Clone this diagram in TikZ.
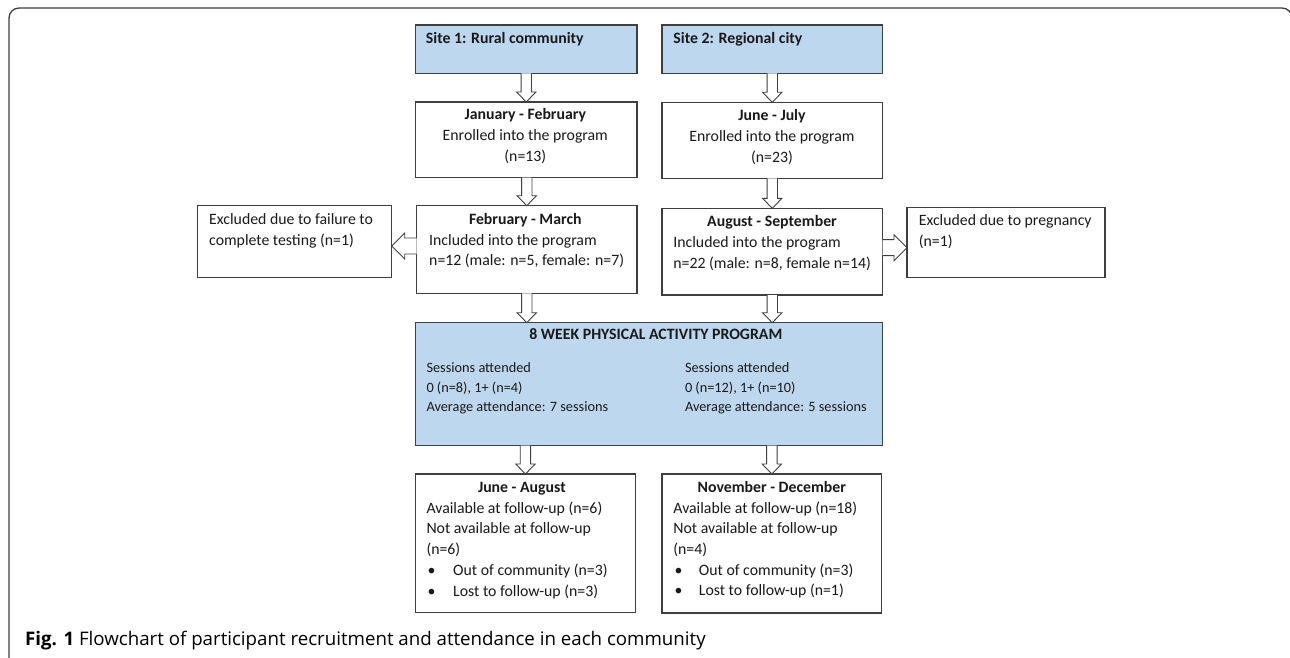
\documentclass[tikz,border=0pt]{standalone}
\usepackage{fontspec}
\setmainfont{Carlito}
\newfontfamily\capfont{Open Sans}
\usetikzlibrary{calc}
\definecolor{boxblue}{HTML}{BDD7EE}
\definecolor{boxline}{HTML}{3F3F3F}
\definecolor{txt}{HTML}{1A1A1A}
\newcommand{\vblk}[3]{%
  \draw[blk] let \p1=(#1), \p2=(#2), \p3=(#3) in
    (\x1-5.2pt,\y2) -- (\x1-5.2pt,\y3+10pt) -- (\x1-9.7pt,\y3+10pt) -- (\x1,\y3)
    -- (\x1+9.7pt,\y3+10pt) -- (\x1+5.2pt,\y3+10pt) -- (\x1+5.2pt,\y2);}
\newcommand{\hblkL}[3]{%
  \draw[blk] let \p1=(#1), \p2=(#2), \p3=(#3) in
    (\x2,\y1+8pt) -- (\x3+13pt,\y1+8pt) -- (\x3+13pt,\y1+13pt) -- (\x3,\y1)
    -- (\x3+13pt,\y1-13pt) -- (\x3+13pt,\y1-8pt) -- (\x2,\y1-8pt);}
\newcommand{\hblkR}[3]{%
  \draw[blk] let \p1=(#1), \p2=(#2), \p3=(#3) in
    (\x2,\y1+8pt) -- (\x3-13pt,\y1+8pt) -- (\x3-13pt,\y1+13pt) -- (\x3,\y1)
    -- (\x3-13pt,\y1-13pt) -- (\x3-13pt,\y1-8pt) -- (\x2,\y1-8pt);}
\tikzset{
  box/.style={draw=boxline, line width=1.1pt, fill=white, anchor=north west,
    inner sep=0pt, outer sep=0pt},
  bluebox/.style={box, fill=boxblue},
  blk/.style={draw=boxline, line width=0.9pt, fill=white, line join=miter},
  tc/.style={anchor=mid, text=txt, inner sep=0pt, font=\fontsize{15.8}{19}\selectfont\bfseries},
  tl/.style={anchor=mid west, text=txt, inner sep=0pt, font=\fontsize{15.8}{19}\selectfont},
  tm/.style={anchor=mid, text=txt, inner sep=0pt, font=\fontsize{15.8}{19}\selectfont},
  ts/.style={anchor=mid west, text=txt, inner sep=0pt, font=\fontsize{14.3}{17}\selectfont},
}
\begin{document}
\begin{tikzpicture}[x=1pt,y=-1pt]
\useasboundingbox (0,0) rectangle (1290,658);
% outer frame
\draw[boxline, line width=1.3pt, rounded corners=10pt] (9,663) -- (9,8) -- (1292,8) -- (1292,663);
% boxes
\node[bluebox, minimum width=221.5pt, minimum height=48.3pt] (site1) at (415.5,25) {};
\node[box, minimum width=221.5pt, minimum height=75.5pt] (jan) at (415.5,102) {};
\node[box, minimum width=220.5pt, minimum height=87.6pt] (febmar) at (416.5,205.7) {};
\node[box, minimum width=194pt, minimum height=71.6pt] (exclL) at (197.7,205.7) {};
\node[bluebox, minimum width=220.5pt, minimum height=48.3pt] (site2) at (662,25) {};
\node[box, minimum width=220.5pt, minimum height=76pt] (june) at (662,102.3) {};
\node[box, minimum width=220.5pt, minimum height=86.7pt] (aug) at (662,208.3) {};
\node[box, minimum width=198pt, minimum height=70pt] (exclR) at (907,207.3) {};
\node[bluebox, minimum width=466.5pt, minimum height=123pt] (week) at (415.6,322.7) {};
\node[box, minimum width=219.7pt, minimum height=138.7pt] (junaug) at (415.6,474) {};
\node[box, minimum width=219.7pt, minimum height=139pt] (novdec) at (662,474) {};
% texts
\node[tl, font=\fontsize{15.8}{19}\selectfont\bfseries] (t1) at (425.7,40.7) {Site 1: Rural community};
\node[tc] (t2) at (525.3,117) {January - February};
\node[tm] (t3) at (525.3,138.3) {Enrolled into the program};
\node[tm] (t4) at (525.3,159.3) {(n=13)};
\node[tc] (t5) at (525.3,221.7) {February - March};
\node[tl] (t6) at (429,242.7) {Included into the program};
\node[tl] (t7) at (429,263.3) {n=12 (male: n=5, female: n=7)};
\node[tl] (t8) at (209,221.7) {Excluded due to failure to};
\node[tl] (t9) at (209,242.7) {complete testing (n=1)};
\node[tl, font=\fontsize{15.8}{19}\selectfont\bfseries] (t10) at (673.2,40.7) {Site 2: Regional city};
\node[tc] (t11) at (772,118.3) {June - July};
\node[tm] (t12) at (772,139.3) {Enrolled into the program};
\node[tm] (t13) at (772,160) {(n=23)};
\node[tc] (t14) at (772,224) {August - September};
\node[tl] (t15) at (673.2,245) {Included into the program};
\node[tl] (t16) at (673.2,265.7) {n=22 (male: n=8, female n=14)};
\node[tl] (t17) at (918.6,222.7) {Excluded due to pregnancy};
\node[tl] (t18) at (918.6,244.3) {(n=1)};
\node[tc] (t19) at (655.8,337.3) {8 WEEK PHYSICAL ACTIVITY PROGRAM};
\node[ts] (t20) at (426.3,370) {Sessions attended};
\node[ts] (t21) at (426.3,390) {0 (n=8), 1+ (n=4)};
\node[ts] (t22) at (426.3,409) {Average attendance: 7 sessions};
\node[ts] (t23) at (684.8,370) {Sessions attended};
\node[ts] (t24) at (684.8,390) {0 (n=12), 1+ (n=10)};
\node[ts] (t25) at (684.8,409) {Average attendance: 5 sessions};
\node[tc] (t26) at (521.9,490) {June - August};
\node[tl] (t27) at (426.3,510.7) {Available at follow-up (n=6)};
\node[tl] (t28) at (426.3,531.3) {Not available at follow-up};
\node[tl] (t29) at (426.3,552) {(n=6)};
\node[tl] (t30) at (427.5,573.3) {\textbullet};
\node[tl] (t31) at (453,573.3) {Out of community (n=3)};
\node[tl] (t32) at (427.5,594) {\textbullet};
\node[tl] (t33) at (453,594) {Lost to follow-up (n=3)};
\node[tc] (t34) at (771.9,490) {November - December};
\node[tl] (t35) at (673.2,510.7) {Available at follow-up (n=18)};
\node[tl] (t36) at (673.2,531.3) {Not available at follow-up};
\node[tl] (t37) at (673.2,552) {(n=4)};
\node[tl] (t38) at (674.3,573.3) {\textbullet};
\node[tl] (t39) at (698.7,573.3) {Out of community (n=3)};
\node[tl] (t40) at (674.3,592.7) {\textbullet};
\node[tl] (t41) at (698.7,592.7) {Lost to follow-up (n=1)};
% caption
\node[anchor=base west, inner sep=0pt, font=\capfont\fontsize{18.7}{22}\selectfont] (cap) at (25,645)
  {\textbf{Fig. 1} Flowchart of participant recruitment and attendance in each community};
% arrows
\vblk{jan.north}{site1.south}{jan.north}
\vblk{june.north}{site2.south}{june.north}
\vblk{febmar.north}{jan.south}{febmar.north}
\vblk{aug.north}{june.south}{aug.north}
\vblk{febmar.south}{febmar.south}{week.north}
\vblk{aug.south}{aug.south}{week.north}
\vblk{junaug.north}{week.south}{junaug.north}
\vblk{novdec.north}{week.south}{novdec.north}
\hblkL{$(febmar.west)+(0,-3.5)$}{febmar.west}{exclL.east}
\hblkR{$(aug.east)+(0,-4)$}{aug.east}{exclR.west}
\end{tikzpicture}
\end{document}
